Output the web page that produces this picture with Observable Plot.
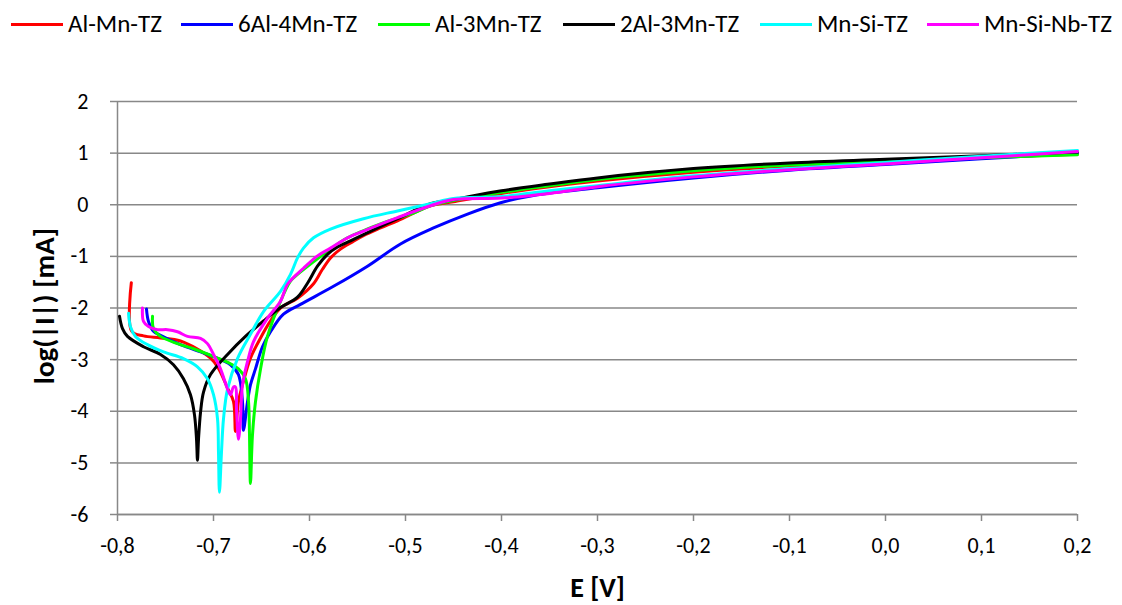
<!DOCTYPE html>
<html>
<head>
<meta charset="utf-8">
<script src="https://cdn.jsdelivr.net/npm/d3@7"></script>
<script src="https://cdn.jsdelivr.net/npm/@observablehq/plot@0.6"></script>
<style>
  body { margin: 0; background: #fff; font-family: Carlito, Calibri, Lato, sans-serif; }
  #legend { position: relative; width: 1122px; height: 50px; }
  .sw { position: absolute; top: 23px; height: 3px; width: 52px; }
  .lt { position: absolute; top: 9px; font-size: 25px; line-height: 30px; color: #000; white-space: nowrap; }
</style>
</head>
<body>
<div id="legend"></div>
<div id="chart"></div>
<script>
// ---- data (E in V, log|I| in mA) ----
const seriesNames = ["Al-Mn-TZ", "6Al-4Mn-TZ", "Al-3Mn-TZ", "2Al-3Mn-TZ", "Mn-Si-TZ", "Mn-Si-Nb-TZ"];
const seriesColors = ["#ff0000", "#0000ff", "#00ff00", "#000000", "#00ffff", "#ff00ff"];

const E_AlMnTZ = [-0.7856,-0.7852,-0.7729,-0.7552,-0.7344,-0.7031,-0.6948,-0.6854,-0.6792,-0.6771,-0.6740,-0.6688,-0.6615,-0.6510,-0.6406,-0.6302,-0.6125,-0.5958,-0.5865,-0.5781,-0.5677,-0.5552,-0.5438,-0.5260,-0.5083,-0.4740,-0.45,-0.40,-0.35,-0.30,-0.20,-0.10,0.00,0.10,0.20];
const L_AlMnTZ = [-1.51,-2.45,-2.54,-2.58,-2.64,-2.97,-3.17,-3.55,-3.81,-4.39,-3.81,-3.42,-2.97,-2.58,-2.25,-2.00,-1.81,-1.53,-1.25,-1.03,-0.86,-0.72,-0.60,-0.45,-0.31,-0.02,0.06,0.22,0.35,0.46,0.63,0.75,0.83,0.91,0.98];

const E_6Al4MnTZ = [-0.7698,-0.7677,-0.7625,-0.7552,-0.7344,-0.7135,-0.7000,-0.6823,-0.6740,-0.6698,-0.6688,-0.6646,-0.6615,-0.6563,-0.6490,-0.6406,-0.6271,-0.6094,-0.5750,-0.5396,-0.5052,-0.4708,-0.4354,-0.4010,-0.3667,-0.30,-0.20,-0.10,0.00,0.10,0.20];
const L_6Al4MnTZ = [-2.02,-2.26,-2.45,-2.53,-2.71,-2.85,-2.94,-3.10,-3.29,-3.82,-4.37,-3.82,-3.49,-3.18,-2.75,-2.46,-2.12,-1.93,-1.58,-1.19,-0.76,-0.45,-0.18,0.04,0.18,0.33,0.52,0.67,0.78,0.89,1.00];

const E_Al3MnTZ = [-0.7635,-0.7625,-0.7552,-0.7375,-0.7208,-0.7000,-0.6823,-0.6740,-0.6667,-0.6635,-0.6625,-0.6615,-0.6594,-0.6563,-0.6510,-0.6438,-0.6302,-0.6198,-0.6125,-0.5990,-0.5781,-0.5604,-0.5260,-0.4917,-0.4740,-0.45,-0.40,-0.35,-0.30,-0.20,-0.10,0.00,0.10,0.20];
const L_Al3MnTZ = [-2.16,-2.40,-2.55,-2.69,-2.79,-2.94,-3.08,-3.18,-3.37,-3.82,-4.46,-5.40,-4.46,-3.82,-3.18,-2.55,-1.87,-1.48,-1.35,-1.15,-0.86,-0.64,-0.37,-0.16,-0.02,0.08,0.24,0.37,0.49,0.66,0.77,0.84,0.91,0.97];

const E_2Al3MnTZ = [-0.7979,-0.7948,-0.7896,-0.7729,-0.7552,-0.7417,-0.7313,-0.7240,-0.7198,-0.7177,-0.7167,-0.7156,-0.7135,-0.7104,-0.7031,-0.6854,-0.6667,-0.6458,-0.6302,-0.6125,-0.6021,-0.5917,-0.5813,-0.5708,-0.5573,-0.5438,-0.5083,-0.4740,-0.45,-0.40,-0.35,-0.30,-0.20,-0.10,0.00,0.10,0.20];
const L_2Al3MnTZ = [-2.16,-2.40,-2.55,-2.75,-2.90,-3.10,-3.37,-3.68,-4.07,-4.54,-4.95,-4.54,-4.02,-3.63,-3.29,-2.90,-2.55,-2.22,-1.99,-1.79,-1.52,-1.19,-0.96,-0.82,-0.70,-0.58,-0.27,0.02,0.10,0.27,0.40,0.52,0.70,0.81,0.88,0.95,1.02];

const E_MnSiTZ = [-0.7885,-0.7865,-0.7813,-0.7688,-0.7521,-0.7313,-0.7167,-0.7063,-0.7000,-0.6958,-0.6948,-0.6938,-0.6917,-0.6896,-0.6854,-0.6750,-0.6615,-0.6479,-0.6302,-0.6198,-0.6125,-0.6063,-0.5958,-0.5781,-0.5438,-0.5083,-0.4740,-0.45,-0.40,-0.35,-0.30,-0.20,-0.10,0.00,0.10,0.20];
const L_MnSiTZ = [-2.10,-2.36,-2.55,-2.71,-2.85,-2.98,-3.14,-3.37,-3.68,-4.15,-4.80,-5.57,-4.80,-4.15,-3.57,-2.98,-2.51,-2.07,-1.68,-1.35,-1.03,-0.84,-0.64,-0.47,-0.27,-0.12,0.02,0.12,0.16,0.27,0.37,0.56,0.70,0.82,0.94,1.05];

const E_MnSiNbTZ = [-0.7740,-0.7729,-0.7677,-0.7583,-0.7479,-0.7375,-0.7271,-0.7135,-0.7063,-0.7000,-0.6927,-0.6854,-0.6823,-0.6792,-0.6771,-0.6760,-0.6740,-0.6719,-0.6698,-0.6646,-0.6583,-0.6438,-0.6302,-0.6229,-0.6063,-0.5917,-0.5781,-0.5604,-0.5438,-0.5083,-0.4740,-0.45,-0.40,-0.35,-0.30,-0.20,-0.10,0.00,0.10,0.20];
const L_MnSiNbTZ = [-2.00,-2.26,-2.36,-2.42,-2.42,-2.46,-2.55,-2.59,-2.69,-2.90,-3.18,-3.57,-3.68,-3.53,-3.53,-3.96,-4.54,-4.15,-3.49,-3.04,-2.65,-2.20,-1.87,-1.54,-1.23,-0.99,-0.84,-0.64,-0.51,-0.25,-0.02,0.10,0.13,0.22,0.35,0.54,0.68,0.79,0.91,1.03];

const xTicks = [-0.8,-0.7,-0.6,-0.5,-0.4,-0.3,-0.2,-0.1,0.0,0.1,0.2];
const yTicks = [-6,-5,-4,-3,-2,-1,0,1,2];

// legend positions (px)
const legendX = [11, 181, 378, 563, 760, 927];

// ---- build table ----
const seriesE = [E_AlMnTZ, E_6Al4MnTZ, E_Al3MnTZ, E_2Al3MnTZ, E_MnSiTZ, E_MnSiNbTZ];
const seriesL = [L_AlMnTZ, L_6Al4MnTZ, L_Al3MnTZ, L_2Al3MnTZ, L_MnSiTZ, L_MnSiNbTZ];
const rows = [];
seriesNames.forEach((name, i) => {
  seriesE[i].forEach((e, j) => rows.push({series: name, E: e, L: seriesL[i][j]}));
});

// legend
const leg = document.getElementById("legend");
seriesNames.forEach((name, i) => {
  const sw = document.createElement("div");
  sw.className = "sw";
  sw.style.left = legendX[i] + "px";
  sw.style.background = seriesColors[i];
  leg.appendChild(sw);
  const t = document.createElement("div");
  t.className = "lt";
  t.style.left = (legendX[i] + 57) + "px";
  t.textContent = name;
  leg.appendChild(t);
});

const fmtX = d => (d < -1e-9 ? "-" : "") + Math.abs(d).toFixed(1).replace(".", ",");

const chart = Plot.plot({
  width: 1122,
  height: 555,
  marginTop: 51,
  marginBottom: 91,
  marginLeft: 117,
  marginRight: 45,
  style: {fontFamily: "Carlito, Calibri, Lato, sans-serif", background: "#fff", color: "#000"},
  x: {domain: [-0.8, 0.2]},
  y: {domain: [-6, 2]},
  color: {domain: seriesNames, range: seriesColors},
  marks: [
    Plot.gridY(yTicks, {stroke: "#888888", strokeOpacity: 1, strokeWidth: 1.5}),
    Plot.ruleX([-0.8], {stroke: "#888888", strokeWidth: 1.5}),
    Plot.ruleY([-6], {stroke: "#888888", strokeWidth: 1.5}),
    Plot.axisY(yTicks, {tickSize: 7, tickPadding: 22, fontSize: 22, stroke: "#888888", strokeWidth: 1.5, label: null, tickFormat: d => String(d)}),
    Plot.axisX(xTicks, {tickSize: 7, tickPadding: 16, fontSize: 22, stroke: "#888888", strokeWidth: 1.5, label: null, tickFormat: fmtX}),
    Plot.line(rows, {x: "E", y: "L", z: "series", stroke: "series", strokeWidth: 3, curve: "catmull-rom"}),
    Plot.text(["log(|I|) [mA]"], {frameAnchor: "left", dx: -73, dy: -2, rotate: -90, textAnchor: "middle", lineAnchor: "middle", fontWeight: "bold", fontSize: 29, fill: "#000"}),
    Plot.text(["E [V]"], {frameAnchor: "bottom", dy: 74, textAnchor: "middle", lineAnchor: "middle", fontWeight: "bold", fontSize: 28, fill: "#000"})
  ]
});
document.getElementById("chart").appendChild(chart);
</script>
</body>
</html>
